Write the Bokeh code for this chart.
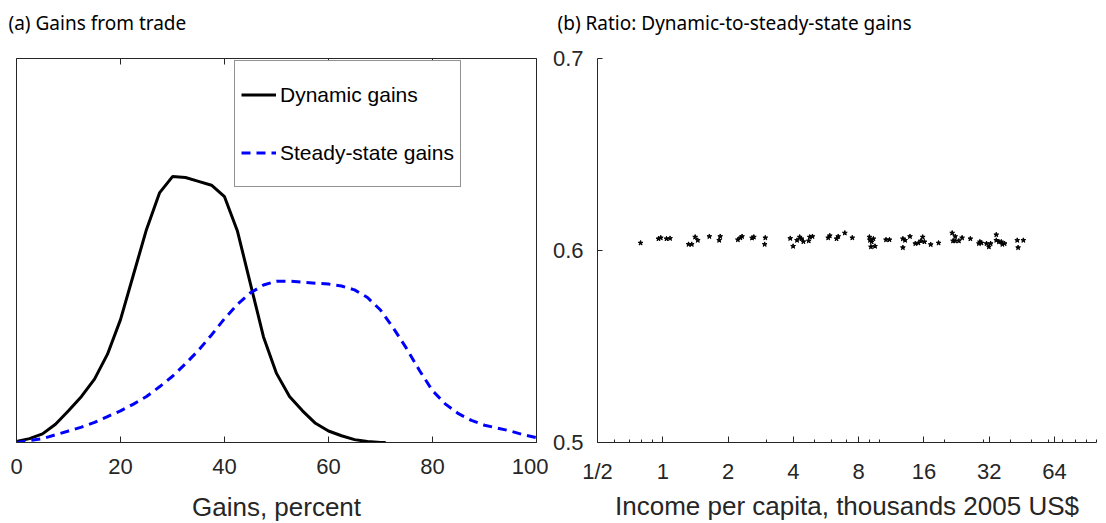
from bokeh.plotting import figure
from bokeh.models import FixedTicker, LinearAxis, Legend, LegendItem, Title
from bokeh.layouts import row
from bokeh.embed import file_html
from bokeh.resources import INLINE

# ---- Panel (a): densities of gains from trade ----
dynamic_gains = [0, 2.5, 5, 7.5, 10, 12.5, 15, 17.5, 20, 22.5, 25, 27.5, 30, 32.5, 35, 37.5,
                 40, 42.5, 45, 47.5, 50, 52.5, 55, 57.5, 60, 62.5, 65, 67.5, 70, 71]
dynamic_density = [0.0001, 0.0004, 0.0009, 0.0019, 0.0033, 0.0048, 0.0066, 0.0092, 0.0128,
                   0.0175, 0.0222, 0.0260, 0.0277, 0.0276, 0.0272, 0.0268, 0.0256, 0.0220,
                   0.0165, 0.0110, 0.0072, 0.0048, 0.0033, 0.0020, 0.0012, 0.0007, 0.0003,
                   0.0001, 0.0000, 0.0000]

steady_gains = [0, 2.5, 5, 7.5, 10, 12.5, 15, 17.5, 20, 22.5, 25, 27.5, 30, 32.5, 35, 37.5,
                40, 42.5, 45, 47.5, 50, 52.5, 55, 57.5, 60, 62.5, 65, 67.5, 70, 72.5, 75,
                77.5, 80, 82.5, 85, 87.5, 90, 92.5, 95, 97.5, 100]
steady_density = [0.0000, 0.0002, 0.0004, 0.0008, 0.0012, 0.0016, 0.0021, 0.0027, 0.0033,
                  0.0040, 0.0048, 0.0058, 0.0069, 0.0082, 0.0096, 0.0112, 0.0129, 0.0144,
                  0.0156, 0.0164, 0.0168, 0.0168, 0.0167, 0.0166, 0.0165, 0.0163, 0.0159,
                  0.0151, 0.0138, 0.0119, 0.0098, 0.0075, 0.0054, 0.0040, 0.0030, 0.0023,
                  0.0018, 0.0015, 0.0012, 0.0008, 0.0005]

gains_ticks = [0, 20, 40, 60, 80, 100]

# ---- Panel (b): ratio vs income per capita ----
income = [0.79, 0.955, 0.979, 1.04, 1.08, 1.315, 1.36, 1.41, 1.45, 1.64, 1.84, 1.82, 2.22,
          2.28, 2.32, 2.58, 2.63, 2.97, 2.95, 3.87, 3.99, 4.16, 4.28, 4.36, 4.45, 4.71, 4.76,
          4.90, 5.79, 5.89, 6.33, 6.44, 6.91, 7.48, 8.97, 9.03, 9.19, 9.36, 9.12, 9.52, 10.7,
          11.1, 12.8, 13.1, 13.8, 12.8, 14.6, 15.1, 15.5, 15.8, 16.1, 17.2, 18.7, 21.6, 22.3,
          21.8, 22.3, 23.2, 24.0, 26.2, 29.0, 29.5, 28.7, 31.1, 31.9, 32.5, 34.5, 34.5, 35.5,
          36.4, 36.8, 37.7, 43.1, 46.0, 43.5]
ratio = [0.6039, 0.6061, 0.6066, 0.6061, 0.6063, 0.6032, 0.6032, 0.6070, 0.6053, 0.6073,
         0.6073, 0.6053, 0.6056, 0.6066, 0.6073, 0.6065, 0.6070, 0.6066, 0.6032, 0.6063,
         0.6022, 0.6053, 0.6070, 0.6061, 0.6046, 0.6050, 0.6070, 0.6073, 0.6066, 0.6077,
         0.6061, 0.6073, 0.6091, 0.6066, 0.6070, 0.6053, 0.6045, 0.6061, 0.6019, 0.6022,
         0.6056, 0.6056, 0.6061, 0.6053, 0.6073, 0.6015, 0.6036, 0.6039, 0.6050, 0.6070,
         0.6045, 0.6031, 0.6039, 0.6091, 0.6073, 0.6050, 0.6050, 0.6050, 0.6066, 0.6061,
         0.6045, 0.6039, 0.6036, 0.6036, 0.6019, 0.6036, 0.6082, 0.6053, 0.6045, 0.6045,
         0.6032, 0.6036, 0.6053, 0.6053, 0.6015]

income_ticks = [0.5, 1, 2, 4, 8, 16, 32, 64]
income_tick_labels = ["1/2", "1", "2", "4", "8", "16", "32", "64"]
income_minor = [0.6, 0.7, 0.8, 0.9, 1, 2, 3, 4, 5, 6, 7, 8, 9, 10,
                20, 30, 40, 50, 60, 70, 80, 90, 100]
ratio_ticks = [0.5, 0.6, 0.7]

title_a = "(a) Gains from trade"
title_b = "(b) Ratio: Dynamic-to-steady-state gains"
xlabel_a = "Gains, percent"
xlabel_b = "Income per capita, thousands 2005 US$"

AX = "#262626"
TICK_FONT = "Liberation Sans"
BORDER_TOP = 58
BORDER_BOTTOM = 80
FRAME_H = 523 - BORDER_TOP - BORDER_BOTTOM


def spacer(size):
    # empty axis used only to reserve space in a side panel
    return LinearAxis(ticker=FixedTicker(ticks=[1]), major_label_text_font_size="1px",
                      major_label_text_color=None, major_label_standoff=0,
                      axis_line_color=None, major_tick_in=0, major_tick_out=size,
                      minor_tick_line_color=None, major_tick_line_color=None)


def panel_title(text, offset):
    return Title(text=text, text_font="Noto Sans", text_font_size="19px",
                 text_font_style="normal", text_color="black", align="left",
                 offset=offset, standoff=12, vertical_align="bottom")


def axis_title(text):
    return Title(text=text, text_font=TICK_FONT, text_font_size="26px",
                 text_font_style="normal", text_color=AX, align="center",
                 standoff=4, vertical_align="bottom")


# ---------------- Left figure ----------------
p1 = figure(width=548, height=523, x_range=(0, 100), y_range=(0, 0.04),
            output_backend="svg", toolbar_location=None,
            min_border_left=16, min_border_right=12,
            min_border_top=BORDER_TOP, min_border_bottom=BORDER_BOTTOM)
p1.title.visible = False
p1.grid.visible = False
p1.yaxis.visible = False
p1.outline_line_color = AX
p1.outline_line_width = 1

xa = p1.xaxis[0]
xa.ticker = FixedTicker(ticks=gains_ticks)
xa.major_tick_in = 6
xa.major_tick_out = 0
xa.minor_tick_line_color = None
xa.axis_line_color = AX
xa.major_tick_line_color = AX
xa.major_label_text_font = TICK_FONT
xa.major_label_text_font_size = "22px"
xa.major_label_text_color = AX
xa.major_label_standoff = 16

top = LinearAxis(ticker=FixedTicker(ticks=gains_ticks), major_label_text_font_size="1px",
                 major_label_text_color=None, major_label_standoff=0,
                 axis_line_color=None, major_tick_in=6, major_tick_out=0,
                 minor_tick_line_color=None, major_tick_line_color=AX)
p1.add_layout(top, "above")
p1.add_layout(spacer(17), "above")
p1.add_layout(panel_title(title_a, -8), "above")
p1.add_layout(spacer(11), "below")
p1.add_layout(axis_title(xlabel_a), "below")

r_dyn = p1.line(dynamic_gains, dynamic_density, line_color="black", line_width=3)
r_ss = p1.line(steady_gains, steady_density, line_color="#0000FF", line_width=3,
               line_dash="9 6")

legend = Legend(items=[LegendItem(label="Dynamic gains", renderers=[r_dyn]),
                       LegendItem(label="Steady-state gains", renderers=[r_ss])],
                location=(218, FRAME_H - 5 - 125), orientation="vertical",
                label_text_font=TICK_FONT, label_text_font_size="21px",
                label_text_color="black", glyph_width=35, glyph_height=55,
                label_height=55, spacing=3, padding=6, margin=0, label_standoff=4,
                border_line_color=AX, border_line_width=1, background_fill_alpha=1.0)
p1.add_layout(legend)

# ---------------- Right figure ----------------
p2 = figure(width=557, height=523, x_axis_type="log", x_range=(0.5, 100), y_range=(0.5, 0.7),
            output_backend="svg", toolbar_location=None,
            min_border_left=49, min_border_right=9,
            min_border_top=BORDER_TOP, min_border_bottom=BORDER_BOTTOM)
p2.title.visible = False
p2.grid.visible = False
p2.outline_line_color = None

bx = p2.xaxis[0]
bx.ticker = FixedTicker(ticks=income_ticks, minor_ticks=income_minor)
bx.major_label_overrides = {t: s for t, s in zip(income_ticks, income_tick_labels)}
bx.major_tick_in = 6
bx.major_tick_out = 0
bx.minor_tick_in = 3
bx.minor_tick_out = 0
bx.axis_line_color = AX
bx.major_tick_line_color = AX
bx.minor_tick_line_color = AX
bx.major_label_text_font = TICK_FONT
bx.major_label_text_font_size = "22px"
bx.major_label_text_color = AX
bx.major_label_standoff = 16

by = p2.yaxis[0]
by.ticker = FixedTicker(ticks=ratio_ticks)
by.major_label_overrides = {0.5: "0.5", 0.6: "0.6", 0.7: "0.7"}
by.major_tick_in = 5
by.major_tick_out = 0
by.minor_tick_line_color = None
by.axis_line_color = AX
by.major_tick_line_color = AX
by.major_label_text_font = TICK_FONT
by.major_label_text_font_size = "22px"
by.major_label_text_color = AX
by.major_label_standoff = 14

p2.add_layout(spacer(17), "above")
p2.add_layout(panel_title(title_b, -40), "above")
p2.add_layout(axis_title(xlabel_b), "below")

p2.scatter(income, ratio, marker="star", size=5, fill_color="black", line_color="black")

layout = row(p1, p2)
open("out.html", "w").write(file_html(layout, INLINE))
